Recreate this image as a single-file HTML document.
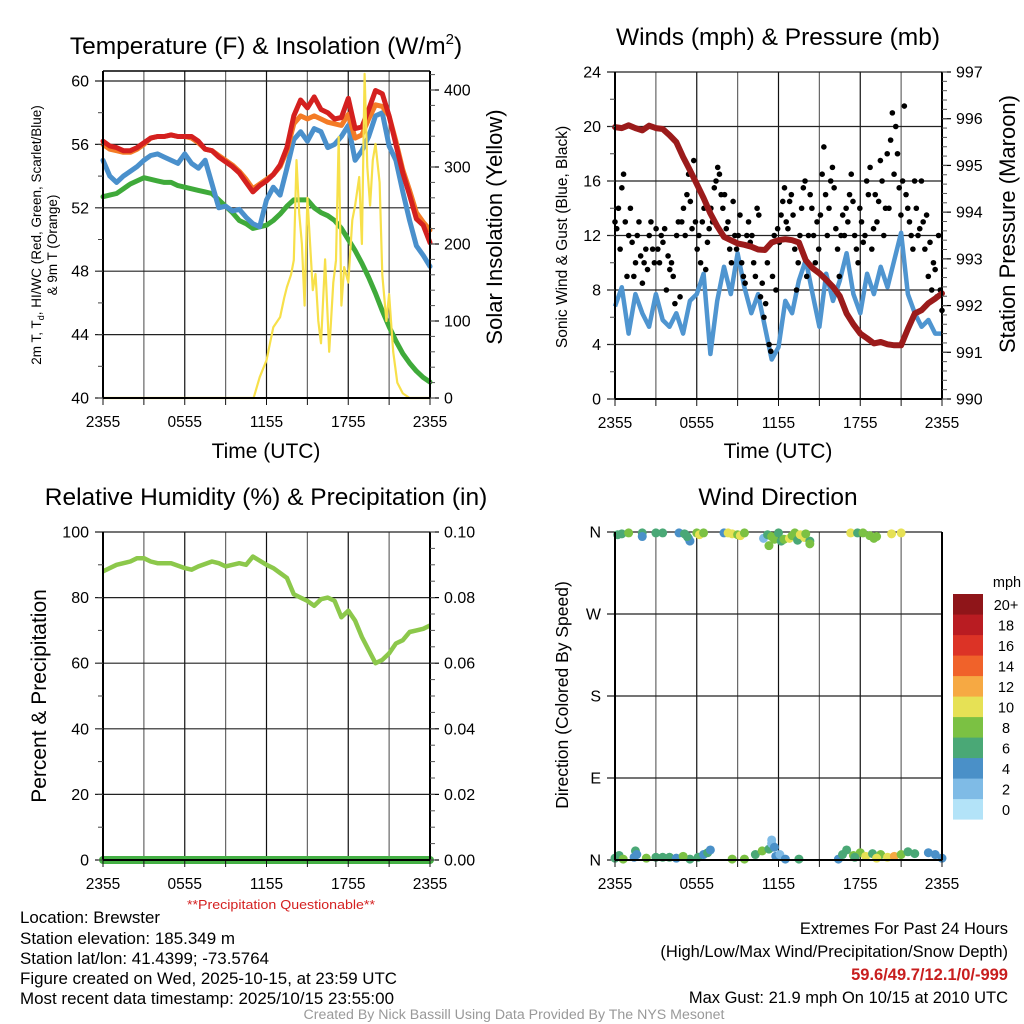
<!DOCTYPE html>
<html><head><meta charset="utf-8"><style>
html,body{margin:0;padding:0;background:#fff;}
svg{display:block;font-family:"Liberation Sans",sans-serif;}
</style></head><body>
<svg id="fig" width="1024" height="1024" viewBox="0 0 1024 1024">
<g id="layer-grid"></g>
<g id="layer-data"></g>
<g id="layer-axes"></g>
<text x="266" y="54" font-size="24.5" text-anchor="middle">Temperature (F) &amp; Insolation (W/m<tspan dy="-10" font-size="15">2</tspan><tspan dy="10">)</tspan></text>
<text x="778" y="45" font-size="24.5" text-anchor="middle">Winds (mph) &amp; Pressure (mb)</text>
<text x="266" y="505" font-size="24.5" text-anchor="middle">Relative Humidity (%) &amp; Precipitation (in)</text>
<text x="778" y="505" font-size="24.5" text-anchor="middle">Wind Direction</text>
<text x="266" y="458" font-size="21" text-anchor="middle">Time (UTC)</text>
<text x="778" y="458" font-size="21" text-anchor="middle">Time (UTC)</text>
<text transform="translate(41,235) rotate(-90)" font-size="13.5" text-anchor="middle">2m T, T<tspan dy="3" font-size="9">d</tspan><tspan dy="-3">, HI/WC (Red, Green, Scarlet/Blue)</tspan></text>
<text transform="translate(57,245) rotate(-90)" font-size="13.5" text-anchor="middle">&amp; 9m T (Orange)</text>
<text transform="translate(502,227) rotate(-90)" font-size="22" text-anchor="middle">Solar Insolation (Yellow)</text>
<text transform="translate(567,237) rotate(-90)" font-size="15.5" text-anchor="middle">Sonic Wind &amp; Gust (Blue, Black)</text>
<text transform="translate(1015,224) rotate(-90)" font-size="22" text-anchor="middle">Station Pressure (Maroon)</text>
<text transform="translate(46,696) rotate(-90)" font-size="21" text-anchor="middle">Percent &amp; Precipitation</text>
<text transform="translate(568,695) rotate(-90)" font-size="17.5" text-anchor="middle">Direction (Colored By Speed)</text>
<text x="281" y="909" font-size="13" fill="#d42020" text-anchor="middle" textLength="188" lengthAdjust="spacingAndGlyphs">**Precipitation Questionable**</text>
<g font-size="16.5">
<text x="20" y="923" textLength="140" lengthAdjust="spacingAndGlyphs">Location: Brewster</text>
<text x="20" y="944" textLength="215" lengthAdjust="spacingAndGlyphs">Station elevation: 185.349 m</text>
<text x="20" y="964" textLength="249" lengthAdjust="spacingAndGlyphs">Station lat/lon: 41.4399; -73.5764</text>
<text x="20" y="984" textLength="377" lengthAdjust="spacingAndGlyphs">Figure created on Wed, 2025-10-15, at 23:59 UTC</text>
<text x="20" y="1004" textLength="374" lengthAdjust="spacingAndGlyphs">Most recent data timestamp: 2025/10/15 23:55:00</text>
</g>
<g font-size="16.5" text-anchor="end">
<text x="1008" y="934">Extremes For Past 24 Hours</text>
<text x="1008" y="957">(High/Low/Max Wind/Precipitation/Snow Depth)</text>
<text x="1008" y="980" fill="#c81e1e" font-weight="bold">59.6/49.7/12.1/0/-999</text>
<text x="1008" y="1003">Max Gust: 21.9 mph On 10/15 at 2010 UTC</text>
</g>
<text x="514" y="1019" font-size="13.5" fill="#999" text-anchor="middle" textLength="421" lengthAdjust="spacingAndGlyphs">Created By Nick Bassill Using Data Provided By The NYS Mesonet</text>
</svg>
<script>
// ---- data ----
const halfHours = [0,0.5,1,1.5,2,2.5,3,3.5,4,4.5,5,5.5,6,6.5,7,7.5,8,8.5,9,9.5,10,10.5,11,11.5,12,12.5,13,13.5,14,14.5,15,15.5,16,16.5,17,17.5,18,18.5,19,19.5,20,20.5,21,21.5,22,22.5,23,23.5,24];
const tempRed = [56.2,55.9,55.8,55.6,55.6,55.8,56.1,56.4,56.5,56.5,56.6,56.5,56.5,56.5,56.2,55.7,55.6,55.2,54.9,54.6,54.2,53.6,53.0,53.4,53.7,54.1,54.7,55.8,57.8,58.8,58.3,59.0,58.2,58.0,57.6,57.7,58.9,57.0,57.1,58.2,59.4,59.2,57.8,56.0,54.2,52.8,51.3,50.9,49.8];
const temp9m = [56.0,55.7,55.6,55.5,55.5,55.7,56.0,56.4,56.5,56.5,56.6,56.5,56.5,56.4,56.1,55.7,55.6,55.3,55.0,54.7,54.3,53.8,53.2,53.5,53.8,54.1,54.6,55.6,57.3,57.8,57.6,57.8,57.6,57.4,57.3,57.2,57.9,56.4,56.6,57.6,58.5,58.4,57.8,56.2,54.4,53.1,51.7,51.1,50.6];
const heatWind = [55.0,54.0,53.6,54.0,54.3,54.6,55.0,55.3,55.4,55.2,55.0,54.8,55.4,54.8,54.5,55.0,53.5,52.0,52.1,51.8,51.9,51.4,51.0,50.8,52.5,53.3,52.8,54.5,56.3,56.8,56.2,57.0,56.8,55.8,56.0,56.5,57.2,55.0,55.6,56.5,57.8,58.0,55.9,55.0,53.0,51.2,49.6,49.0,48.3];
const dewPoint = [52.7,52.8,52.9,53.2,53.5,53.7,53.9,53.8,53.7,53.6,53.6,53.4,53.3,53.2,53.1,53.0,52.9,52.5,52.1,51.7,51.2,51.0,50.7,50.8,50.9,51.2,51.6,52.1,52.5,52.5,52.5,52.0,51.7,51.5,51.2,50.7,50.0,49.3,48.5,47.6,46.6,45.5,44.5,43.6,42.8,42.2,41.7,41.3,41.0];
const solarHours = [0,11.05,11.5,12,12.5,13,13.3,13.5,13.8,14,14.2,14.4,14.6,14.8,15,15.2,15.4,15.6,15.8,16,16.3,16.6,16.9,17.1,17.3,17.5,17.7,18,18.3,18.5,18.8,19,19.2,19.4,19.6,19.8,20,20.3,20.5,20.8,21,21.3,21.6,22,22.5,24];
const solarVals = [0,0,27,49,92,105,130,144,160,179,309,240,200,120,260,200,140,161,100,71,180,60,150,179,339,120,170,150,231,250,287,200,421,300,250,309,330,280,160,100,135,60,20,6,0,0];
const pressHours = [0,0.5,1,1.5,2,2.5,3,3.5,4,4.5,5,5.5,6,6.5,7,7.5,8,8.5,9,9.5,10,10.5,11,11.5,12,12.5,13,13.5,14,14.5,15,15.5,16,16.5,17,17.5,18,18.5,19,19.5,20,20.5,21,21.5,22,22.5,23,23.5,24];
const pressure = [995.82,995.8,995.86,995.8,995.75,995.85,995.8,995.78,995.65,995.5,995.18,994.9,994.6,994.3,993.97,993.7,993.47,993.4,993.33,993.3,993.26,993.2,993.19,993.35,993.4,993.42,993.4,993.35,992.97,992.8,992.69,992.55,992.4,992.2,991.83,991.6,991.4,991.3,991.19,991.22,991.17,991.15,991.15,991.5,991.83,991.9,992.05,992.15,992.26];
const sonicWind = [6.8,8.2,4.8,7.7,6.3,5.3,7.7,5.8,5.3,6.3,4.8,7.2,7.7,9.2,3.3,7.2,9.7,7.7,10.7,8.2,6.3,7.7,5.3,2.9,3.8,7.2,6.3,8.7,10.2,7.7,5.3,9.2,7.2,8.7,10.7,7.7,6.3,9.2,7.7,9.7,8.2,10.2,12.2,7.7,6.3,5.3,5.8,4.8,4.8];
const gusts = [13,12.5,14,11,15.5,16.5,13,9,12,14,11.5,9,10,12,13,10.5,8.5,10,11,9.5,12,13,11,10,12.5,11,10,12,11.5,12.5,8,10.5,9.5,10,9,7,12,13,7.5,13,14,12,15,16.5,14.5,12.5,17.5,13,11,12,10,13,14,9.5,11.5,12.5,14,13,15.5,16,17,16.5,15,14,15,12.5,13,11,10,14.5,12,11,12,13.5,10,9,8.5,12,13,11.5,12,10,9,14,13.5,7.5,8.5,6,7,10,4,3.5,9,12,8,12.5,11.5,13.5,14.5,15.5,13,12.5,14.5,15,13.5,11,8,10,12,14,15.5,16,9,12,15,14,12,10,13,11,13.5,16.5,18.5,15,12,14,16,17,15.5,12.5,11,9,12,13.5,12,14,13,15,16.5,14.5,12,11,10,14,13,11.5,12,16,15,17,11,12.5,15,13,14.5,17.5,16,12,14,18,14,19,21,16.5,20,18,15.5,13.5,16,21.5,15,14,13,12,11,16,14,12,12.5,16,13,11,13.5,9,11.5,8,10,9.5,7.5,12,8,6.5];
const rhHours = [0,1,2,2.5,3,3.5,4,5,6,6.5,7,8,8.5,9,10,10.5,11,12,12.5,13,13.5,14,14.5,15,15.5,16,16.5,17,17.5,18,18.5,19,19.5,20,20.5,21,21.5,22,22.5,23,23.5,24];
const rhVals = [88,90,91,92,92,91,90.5,90.5,89,88.5,89.5,91,90.5,89.5,90.5,90,92.5,90,89,87.5,86,81,80,79,77.5,79.5,80,79,74,76,73,68,64,60,61,63,66,67,69.5,70,70.5,71.5];
const precipVals = [0,0];
const dirHours = [0.2,0.5,1,2,2,3,3.5,4.7,5.1,5.4,5.5,5.3,6,6.2,6.5,8,8.3,8.6,9,9.2,9.5,10.9,11.2,11.5,11.7,12,12.2,12.4,12.8,13,13.2,13.4,13.6,13.9,14.3,14,11.3,14.3,17.3,17.8,18.2,18.7,19,19.2,20.3,21,
 0,0.3,0.6,1.5,1.6,1.4,2.3,3,3.5,4,4.5,5.5,5,6.1,6.5,6.8,7,8.6,9.5,10.3,10.8,11.3,11.5,11.5,11.7,11.8,12.1,12.5,13.5,16.4,16.7,17,17.5,18,18.4,18.9,19.5,20,20.5,21,21.5,22,23,23.5,24,19.2,17.6];
const dirVals = [357,358,359,359,355,359,359,359,358,353,350,355,359,357,359,359,359,358,357,356,359,353,357,355,352,359,350,352,353,356,359,351,357,354,350,358,345,347,359,359,359,356,353,355,358,359,
 2,5,1,10,6,3,2,3,3,3,2,1,4,3,6,8,11,1,1,6,10,12,18,22,14,4,6,1,1,1,6,11,5,8,4,7,6,3,4,6,9,7,8,6,2,2,3];
const dirSpeeds = [6,7,8,6,4,6,6,5,6,4,4,6,8,10,8,4,10,10,8,10,8,2,6,8,8,6,6,8,10,8,8,6,10,10,6,8,8,8,10,6,8,8,8,8,10,10,
 6,6,8,6,4,4,8,6,6,6,4,6,8,6,4,6,4,8,8,6,8,6,2,2,4,4,2,4,6,4,6,6,8,8,10,6,8,10,12,8,6,6,4,4,4,10,6];
const tempTicks = [40,44,48,52,56,60];
const solarTicks = [0,100,200,300,400];
const windTicks = [0,4,8,12,16,20,24];
const pressTicks = [990,991,992,993,994,995,996,997];
const rhTicks = [0,20,40,60,80,100];
const precipTicks = ["0.00","0.02","0.04","0.06","0.08","0.10"];
const dirTicks = [0,90,180,270,360];
const dirLabels = ["N","E","S","W","N"];
const timeLabels = ["2355","0555","1155","1755","2355"];
const speedBins = ["0","2","4","6","8","10","12","14","16","18","20+"];
const speedColors = ["#b3e3f8","#7fbbe6","#4a90c8","#4aa876","#7bc143","#e6e155","#f6a943","#f0622a","#dc3326","#b91c22","#8f1519"];

// ---- helpers ----
const NS="http://www.w3.org/2000/svg";
const gGrid=document.getElementById('layer-grid'), gData=document.getElementById('layer-data'), gAx=document.getElementById('layer-axes');
function mk(tag,attrs,parent){const e=document.createElementNS(NS,tag);for(const k in attrs)e.setAttribute(k,attrs[k]);parent.appendChild(e);return e;}
function lin(d0,d1,r0,r1){return v=>r0+(v-d0)*(r1-r0)/(d1-d0);}
function poly(xs,ys,sx,sy){return xs.map((x,i)=>sx(x).toFixed(1)+','+sy(ys[i]).toFixed(1)).join(' ');}

function frame(p){
  for(let h=0;h<=24;h+=3){
    const x=p.sx(h);
    const l=mk('line',{x1:x,y1:p.top,x2:x,y2:p.bot,stroke:(h%6===0)?'#111':'#666','stroke-width':1.2},gGrid);
    
    
    const t=mk('line',{x1:x,y1:p.bot,x2:x,y2:p.bot+7,stroke:'#111','stroke-width':1},gAx);
    
    
  }
  timeLabels.forEach((s,i)=>{
    const t=mk('text',{x:p.sx(i*6),y:p.bot+29,'font-size':15.5,'text-anchor':'middle'},gAx);
    t.textContent=s;
    
    
  });
  const b=mk('line',{x1:p.x0,y1:p.bot,x2:p.x1,y2:p.bot,stroke:'#000','stroke-width':2},gAx);
  
  
  const l=mk('line',{x1:p.x0,y1:p.gtop,x2:p.x0,y2:p.bot,stroke:'#000','stroke-width':2},gAx);
  
  
  const r=mk('line',{x1:p.x1,y1:p.gtop,x2:p.x1,y2:p.bot,stroke:'#000','stroke-width':2},gAx);
  
  
}
function leftTicks(p,ticks,sy,labels,minorStep){
  ticks.forEach((v,i)=>{
    const y=sy(v);
    const g=mk('line',{x1:p.x0-8,y1:y,x2:p.x1,y2:y,stroke:'#222','stroke-width':1.2},gGrid);
    
    
    const t=mk('text',{x:p.x0-14,y:y+5.5,'font-size':16,'text-anchor':'end'},gAx);
    t.textContent=labels?labels[i]:v;
    
    
  });
  if(minorStep){for(let v=ticks[0];v<ticks[ticks.length-1];v+=minorStep){
    const y=sy(v);
    const m=mk('line',{x1:p.x0-5,y1:y,x2:p.x0,y2:y,stroke:'#444','stroke-width':1},gAx);
    
    
  }}
}
function rightTicks(p,ticks,sy,labels,minorStep,minorFrom,minorTo){
  ticks.forEach((v,i)=>{
    const y=sy(v);
    const t=mk('line',{x1:p.x1,y1:y,x2:p.x1+9,y2:y,stroke:'#000','stroke-width':1.2},gAx);
    
    
    const s=mk('text',{x:p.x1+14,y:y+5.5,'font-size':16},gAx);
    s.textContent=labels?labels[i]:v;
    
    
  });
  if(minorStep){for(let v=minorFrom;v<=minorTo+1e-9;v+=minorStep){
    const y=sy(v);
    const m=mk('line',{x1:p.x1,y1:y,x2:p.x1+5,y2:y,stroke:'#555','stroke-width':1},gAx);
    
    
  }}
}

// ---- Panel 1: temperature ----
{
  const p={x0:103,x1:430,top:71,gtop:71,bot:398};
  p.sx=lin(0,24,p.x0,p.x1);
  const sy=lin(40,60,398,81), sS=lin(0,400,398,90);
  frame(p);
  const tb=mk('line',{x1:p.x0,y1:71,x2:p.x1,y2:71,stroke:'#000','stroke-width':1.5},gAx);
  
  
  leftTicks(p,tempTicks,sy,null,2);
  rightTicks(p,solarTicks,sS,null,20,0,420);
  const series=[[dewPoint,'#3faa3a','dewpoint-line'],[heatWind,'#4a90cc','heat-index-line'],[temp9m,'#f47b26','temp-9m-line'],[tempRed,'#d4201f','temp-2m-line']];
  series.forEach(s=>{
    const e=mk('polyline',{points:poly(halfHours,s[0],p.sx,sy),fill:'none',stroke:s[1],'stroke-width':5,'stroke-linejoin':'round','stroke-linecap':'round'},gData);
    
    
  });
  const y=mk('polyline',{points:poly(solarHours,solarVals,p.sx,sS),fill:'none',stroke:'#f7e04a','stroke-width':2.2,'stroke-linejoin':'round'},gData);
  
  
}

// ---- Panel 2: winds & pressure ----
{
  const p={x0:615,x1:942,top:72,gtop:72,bot:399};
  p.sx=lin(0,24,p.x0,p.x1);
  const sy=lin(0,24,399,72), sP=lin(990,997,399,72);
  frame(p);
  leftTicks(p,windTicks,sy,null,2);
  rightTicks(p,pressTicks,sP,null,0.2,990,997);
  const w=mk('polyline',{points:poly(pressHours,sonicWind,p.sx,sy),fill:'none',stroke:'#4f95d0','stroke-width':4.5,'stroke-linejoin':'round'},gData);
  
  
  gusts.forEach((g,i)=>{
    const c=mk('circle',{cx:p.sx(i*24/(gusts.length-1)),cy:sy(g),r:2.8,fill:'#000'},gData);
    
    
  });
  const pr=mk('polyline',{points:poly(pressHours,pressure,p.sx,sP),fill:'none',stroke:'#9b1b1b','stroke-width':6,'stroke-linejoin':'round','stroke-linecap':'round'},gData);
  
  
}

// ---- Panel 3: RH & precipitation ----
{
  const p={x0:103,x1:430,top:532,gtop:532,bot:860};
  p.sx=lin(0,24,p.x0,p.x1);
  const sy=lin(0,100,860,532);
  frame(p);
  leftTicks(p,rhTicks,sy,null,10);
  rightTicks(p,[0,20,40,60,80,100],sy,precipTicks,5,0,100);
  const rh=mk('polyline',{points:poly(rhHours,rhVals,p.sx,sy),fill:'none',stroke:'#8cc84b','stroke-width':4.5,'stroke-linejoin':'round'},gData);
  
  
  const sP=lin(0,0.1,860,532);
  const pc=mk('polyline',{points:poly([0,24],precipVals,p.sx,sP),fill:'none',stroke:'#44b044','stroke-width':8,'stroke-linecap':'round'},gData);
  
  
}

// ---- Panel 4: wind direction ----
{
  const p={x0:615,x1:942,top:532,gtop:532,bot:860};
  p.sx=lin(0,24,p.x0,p.x1);
  const sy=lin(0,360,860,532);
  frame(p);
  leftTicks(p,dirTicks,sy,dirLabels,0);
  dirVals.forEach((d,i)=>{
    const bin=Math.min(10,Math.floor(dirSpeeds[i]/2));
    const c=mk('circle',{cx:p.sx(dirHours[i]),cy:sy(d),r:4.5,fill:speedColors[bin]},gData);
    
    
  });
  const cb=mk('g',{},gAx);
  
  
  speedBins.forEach((s,i)=>{
    const k=speedBins.length-1-i;
    const y=594+k*20.5;
    const r=mk('rect',{x:953,y:y,width:30,height:20.6,fill:speedColors[i]},cb);
    
    
    const t=mk('text',{x:1006,y:y+16,'font-size':14.5,'text-anchor':'middle'},cb);
    t.textContent=s;
    
    
  });
  const u=mk('text',{x:1007,y:587,'font-size':14.5,'text-anchor':'middle'},cb);
  u.textContent='mph';
  
  
}
</script>
</body></html>
